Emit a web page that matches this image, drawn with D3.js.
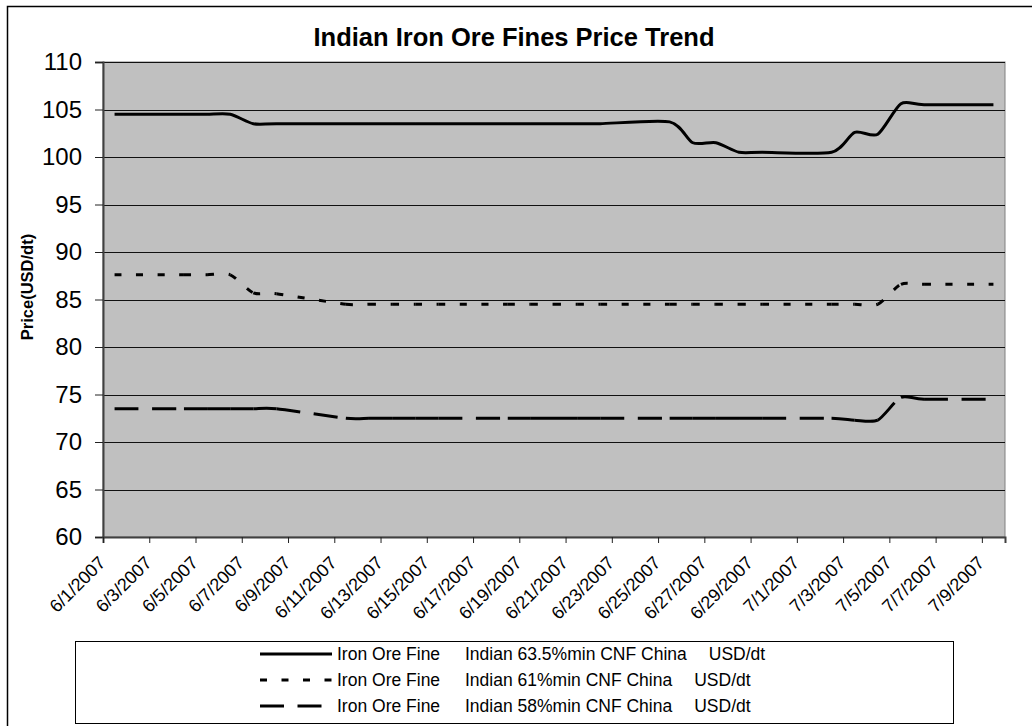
<!DOCTYPE html>
<html>
<head>
<meta charset="utf-8">
<script src="https://cdn.jsdelivr.net/npm/d3@7/dist/d3.min.js"></script>
<style>
  body { margin: 0; background: #fff; }
  svg { display: block; font-family: "Liberation Sans", Arial, sans-serif; }
</style>
</head>
<body>
<div id="chart"></div>
<script>
// trading days (weekdays only)
const dates = ["6/1/2007","6/4/2007","6/5/2007","6/6/2007","6/7/2007","6/8/2007",
  "6/11/2007","6/12/2007","6/13/2007","6/14/2007","6/15/2007",
  "6/18/2007","6/19/2007","6/20/2007","6/21/2007","6/22/2007",
  "6/25/2007","6/26/2007","6/27/2007","6/28/2007","6/29/2007",
  "7/2/2007","7/3/2007","7/4/2007","7/5/2007","7/6/2007","7/9/2007"];

const fines635 = [104.5,104.5,104.5,104.5,103.5,103.5,
  103.5,103.5,103.5,103.5,103.5,
  103.5,103.5,103.5,103.5,103.5,
  103.7,101.5,101.5,100.5,100.5,
  100.5,102.6,102.4,105.6,105.5,105.5];

const fines61 = [87.6,87.6,87.6,87.6,85.7,85.6,
  84.5,84.5,84.5,84.5,84.5,
  84.5,84.5,84.5,84.5,84.5,
  84.5,84.5,84.5,84.5,84.5,
  84.5,84.5,84.5,86.6,86.6,86.6];

const fines58 = [73.5,73.5,73.5,73.5,73.5,73.5,
  72.5,72.5,72.5,72.5,72.5,
  72.5,72.5,72.5,72.5,72.5,
  72.5,72.5,72.5,72.5,72.5,
  72.5,72.3,72.3,74.7,74.5,74.5];

const seriesGrade = ["Indian 63.5%min CNF China", "Indian 61%min CNF China", "Indian 58%min CNF China"];
const tickLabels = ["6/1/2007","6/3/2007","6/5/2007","6/7/2007","6/9/2007","6/11/2007","6/13/2007",
  "6/15/2007","6/17/2007","6/19/2007","6/21/2007","6/23/2007","6/25/2007","6/27/2007","6/29/2007",
  "7/1/2007","7/3/2007","7/5/2007","7/7/2007","7/9/2007"];
const yTicks = [60,65,70,75,80,85,90,95,100,105,110];

const width = 1032, height = 726;
const plot = {left: 103, right: 1005, top: 62, bottom: 537};

const parse = d3.timeParse("%m/%d/%Y");

let svg = d3.select("#chart")
.append("svg")
.attr("width", width)
.attr("height", height);

// outer chart frame (only top/left edges fall in the picture)
svg.append("path")
.attr("d", "M7.5," + height + "V6.5H" + width)
.attr("fill", "none")
.attr("stroke", "#000")
.attr("stroke-width", 1.5);

let x = d3.scaleTime()
.domain([parse("6/1/2007"), parse("7/10/2007")])
.range([plot.left, plot.right]);

let y = d3.scaleLinear()
.domain([60, 110])
.range([plot.bottom, plot.top]);

// points sit in the middle of their day slot
let xMid = d => x(d3.timeHour.offset(parse(d), 12));

svg.append("rect")
.attr("x", plot.left)
.attr("y", plot.top)
.attr("width", plot.right - plot.left)
.attr("height", plot.bottom - plot.top)
.attr("fill", "#c0c0c0")
.attr("stroke", "#808080");

// gridlines
svg.append("g")
.selectAll("line")
.data(yTicks.slice(1))
.enter().append("line")
.attr("x1", plot.left)
.attr("x2", plot.right)
.attr("y1", d => Math.round(y(d)) + 0.5)
.attr("y2", d => Math.round(y(d)) + 0.5)
.attr("stroke", "#111");

let yAxis = svg.append("g")
.attr("transform", "translate(" + plot.left + ",0)")
.call(d3.axisLeft(y).tickValues(yTicks).tickSize(8).tickPadding(13).tickFormat(d3.format("d")));

yAxis.selectAll("text")
.attr("font-size", 24)
.attr("fill", "#000")
.attr("font-family", "Liberation Sans, Arial, sans-serif");

let xAxis = svg.append("g")
.attr("transform", "translate(0," + plot.bottom + ")")
.call(d3.axisBottom(x).tickValues(tickLabels.map(parse)).tickSize(6).tickFormat(""));

xAxis.selectAll(".tick")
.append("text")
.data(tickLabels)
.attr("text-anchor", "end")
.attr("transform", "translate(3,27) rotate(-45)")
.attr("font-size", 18)
.attr("fill", "#000")
.attr("font-family", "Liberation Sans, Arial, sans-serif")
.text(d => d);

svg.selectAll(".domain").attr("stroke", "#404040").attr("stroke-width", 2);
svg.selectAll(".tick line").attr("stroke", "#222");

// title and axis title
svg.append("text")
.attr("x", 514)
.attr("y", 46)
.attr("text-anchor", "middle")
.attr("font-size", 25.5)
.attr("font-weight", "bold")
.text("Indian Iron Ore Fines Price Trend");

svg.append("text")
.attr("transform", "translate(33,287) rotate(-90)")
.attr("text-anchor", "middle")
.attr("font-size", 16.5)
.attr("font-weight", "bold")
.text("Price(USD/dt)");

// series: Excel-style smoothed lines, dash pattern restarts at every data point
let series = [
  {values: fines635, dash: null},
  {values: fines61, dash: "7,14.5"},
  {values: fines58, dash: "24,13.5"}
];

function segmentPaths(values) {
  let segs = [], cx, cy;
  let ctx = {
    moveTo(a, b) { cx = a; cy = b; },
    lineTo(a, b) { segs.push("M" + cx + "," + cy + "L" + a + "," + b); cx = a; cy = b; },
    bezierCurveTo(a, b, c, d, e, f) {
      segs.push("M" + cx + "," + cy + "C" + a + "," + b + "," + c + "," + d + "," + e + "," + f);
      cx = e; cy = f;
    },
    closePath() {}
  };
  d3.line()
  .x((d, i) => xMid(dates[i]))
  .y(d => y(d))
  .curve(d3.curveCardinal.tension(0.25))
  .context(ctx)(values);
  return segs;
}

series.forEach(s => {
  let g = svg.append("g");
  if (!s.dash) {
    g.append("path")
    .attr("d", segmentPaths(s.values).join(""))
    .attr("fill", "none")
    .attr("stroke", "#000")
    .attr("stroke-width", 3)
    .attr("stroke-linejoin", "round");
  } else {
    g.selectAll("path")
    .data(segmentPaths(s.values))
    .enter().append("path")
    .attr("d", d => d)
    .attr("fill", "none")
    .attr("stroke", "#000")
    .attr("stroke-width", 3)
    .attr("stroke-dasharray", s.dash);
  }
});

// legend
let legend = svg.append("g");

legend.append("rect")
.attr("x", 75.5)
.attr("y", 641.5)
.attr("width", 878)
.attr("height", 82)
.attr("fill", "#fff")
.attr("stroke", "#000");

let rows = legend.selectAll(".row")
.data(series)
.enter().append("g")
.attr("class", "row")
.attr("transform", (d, i) => "translate(0," + (654 + i * 26) + ")");

rows.append("line")
.attr("x1", 260)
.attr("x2", 332)
.attr("stroke", "#000")
.attr("stroke-width", 3)
.attr("stroke-dasharray", d => d.dash);

let label = rows.append("text")
.attr("y", 6)
.attr("font-size", 17.5)
.attr("fill", "#000");

label.append("tspan").attr("x", 337).text("Iron Ore Fine");
label.append("tspan").attr("x", 465).text((d, i) => seriesGrade[i]);
label.append("tspan").attr("dx", 22).text("USD/dt");
</script>
</body>
</html>
